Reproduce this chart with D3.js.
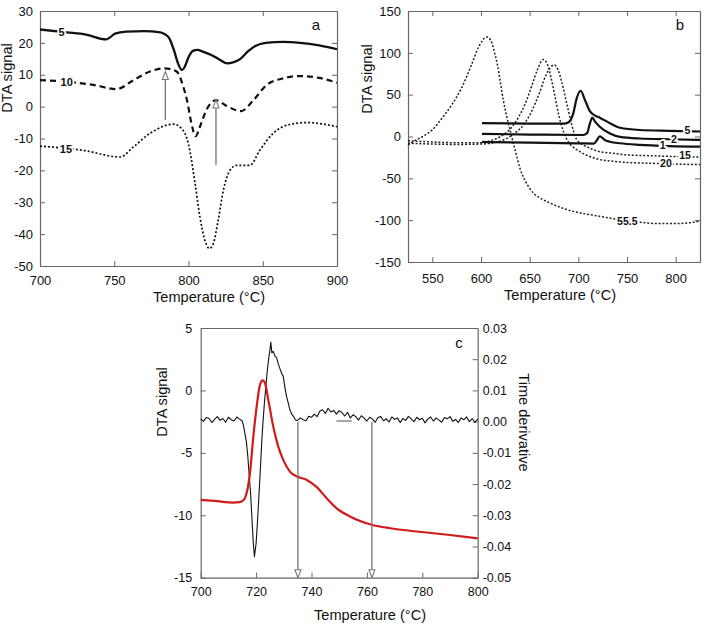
<!DOCTYPE html>
<html>
<head>
<meta charset="utf-8">
<script src="https://cdn.jsdelivr.net/npm/d3@7"></script>
<style>
body { margin: 0; background: #fff; }
svg text { font-family: "Liberation Sans", Arial, sans-serif; fill: #111; }
</style>
</head>
<body>
<div id="chart"></div>
<script>
// ---- panel a ----
var aTicksX = [700, 750, 800, 850, 900];
var aTicksY = [30, 20, 10, 0, -10, -20, -30, -40, -50];

var aT5 = [700,718,731,744.5,751,758,770,781,784,787,790,793,795.5,797.5,800,803,806,810,815,820,826,830,835,840,845,852,864,875,888,900];
var aV5 = [24.2,23.3,22.6,21.1,23,23.5,23.7,23.3,22.7,21.5,18,13.5,11.5,12.5,15.5,17.5,17.8,17.2,16.3,15,13.6,13.9,15,17.3,19,20,20.3,20,19.2,18];

var aT10 = [700,718,736,751.5,763,774,784,792,796.5,799,802,804.8,807.7,812,818.5,825.7,835.3,843.7,852.6,864,875,888,900];
var aV10 = [8.3,7.8,6.8,5.5,8.3,11,12,11,6.2,2,-5.3,-9.3,-6.3,-1.1,2,0.2,-1.4,2,6.8,8.9,9.6,9,7.5];

var aT15 = [700,729,754,763,774,790,795.4,799.9,804.4,807.7,811,814,816.7,820,823.5,828,832.4,841.4,848,857,868,879.6,900];
var aV15 = [-12.4,-13.7,-15.8,-12.6,-8.4,-5.5,-6.9,-11.6,-24,-34.6,-41.9,-44.5,-43,-35.6,-26.2,-19.9,-18.4,-18.4,-13.7,-8.4,-5.6,-5,-6.3];

var aLabels = ["5", "10", "15"];
var aLabelT = [714.5, 718, 717.5];
var aLabelV = [23.3, 7.8, -13.3];

var aArrowT = [784.4, 818.5];
var aArrowFrom = [-4.2, -18.3];
var aArrowTo = [11, 2.1];

// ---- panel b ----
var bTicksX = [550, 600, 650, 700, 750, 800];
var bTicksY = [150, 100, 50, 0, -50, -100, -150];

var bT55 = [525,532,540,550,560,570,580,590,598,606,610,614,617,620,623,626,630,635,640,645,650,655,660,670,680,690,705,720,740,760,780,800,815,825];
var bV55 = [-10,-5,0,8,22,38,58,85,108,119,115,100,85,64,43,26,7,-16,-38,-52,-62,-69,-73,-79,-84,-88,-92,-95,-99,-102,-104,-104,-103,-101];

var bT20 = [525,550,575,600,610,620,630,638,645,652,658,664,668,672,676,680,685,690,695,700,710,720,735,750,775,800,825];
var bV20 = [-5,-6.5,-7.5,-7.5,-5,0,9,22,38,60,80,92,87,70,48,25,5,-7,-13,-17,-23,-27,-29.5,-31,-32,-33,-33.5];

var bT15 = [525,550,575,600,615,625,635,645,652,660,667,675,679,683,688,693,698,705,712,720,735,750,775,800,825];
var bV15 = [-8,-9,-9.5,-9,-7,-3,4,16,30,52,74,85.5,80,65,40,15,-3,-10,-14,-17.5,-20,-22,-23,-24,-24.5];

var bT5 = [601,650,686,690,694.8,698.3,702.4,706.8,712,718,722,732.5,742.8,763,794,825];
var bV5 = [16,15.5,15.5,17,27.7,45.6,54.7,43.6,30,24.5,22.5,15.8,10.5,7.8,6.8,6];

var bT2 = [601,650,705,709,711.5,714.4,717,722,732.5,742.8,763,794,825];
var bV2 = [3.2,2.3,1.8,4,14,22.5,18,11.7,3.5,-0.5,-2.4,-3.3,-4];

var bT1 = [601,650,700,716,719,722,724.5,727,732.5,742.8,763,794,825];
var bV1 = [-6.5,-7.3,-8.2,-8.5,-4.5,0.3,-1.5,-4,-6.2,-8.1,-10,-11.5,-12.2];

var bLabels = ["5", "2", "1", "15", "20", "55.5"];
var bLabelT = [812, 798.3, 786.7, 809.6, 790, 750.3];
var bLabelV = [6.9, -3.4, -11, -23, -32, -101];

// ---- panel c ----
var cTicksX = [700, 720, 740, 760, 780, 800];
var cTicksY = [5, 0, -5, -10, -15];
var cTicksY2 = [0.03, 0.02, 0.01, 0.00, -0.01, -0.02, -0.03, -0.04, -0.05];

var cRedT = [700,705,711.8,714,715.4,716.6,717.8,719,720.2,721.4,722.4,723.2,724.4,726.2,728,729.8,732.2,734.8,738.3,741.9,745.5,749.1,753.9,762,768.4,778,790,800];
var cRedV = [-8.77,-8.85,-8.98,-8.95,-8.8,-8.2,-6.6,-3.7,-1.3,0.45,0.8,0.6,-0.75,-2.9,-4.5,-5.56,-6.5,-6.9,-7.17,-7.75,-8.64,-9.44,-10.1,-10.78,-11.04,-11.3,-11.58,-11.85];

var cDerivT = [700,701,702,703,704,705,706,707,708,709,710,711,712,713,714,715,715.5,716,716.5,717,717.5,718,718.5,719,719.4,720,720.5,721,721.5,722,722.5,723,723.5,724,724.5,725,725.3,725.7,726.2,726.8,727.4,728,728.6,729.2,729.8,730.4,731,731.6,732.2,732.8,733.5,734.2,735,736,737,738,739,740,741,742,743,744,745,746,747,748,749,750,751,752,753,754,755,756,757,758,759,760,761,762,763,764,765,766,767,768,769,770,771,772,773,774,775,776,777,778,779,780,781,782,783,784,785,786,787,788,789,790,791,792,793,794,795,796,797,798,799,800];
var cDerivV = [0.0009,0.0001,0.0013,0.0011,-0.0003,0.0007,0.0016,0.0004,0.0010,-0.0002,0.0014,0.0006,0.0002,0.0015,0.0008,0.0002,-0.0015,-0.004,-0.0065,-0.011,-0.017,-0.023,-0.031,-0.039,-0.0433,-0.039,-0.032,-0.024,-0.016,-0.007,0.000,0.006,0.011,0.016,0.020,0.023,0.0255,0.022,0.0225,0.021,0.0205,0.0185,0.017,0.0155,0.0145,0.011,0.008,0.006,0.0038,0.0025,0.0017,0.0005,0.0004,0.0012,0.0006,0.0003,0.0017,0.0014,0.0024,0.0016,0.0033,0.0038,0.0026,0.0043,0.0031,0.0036,0.0024,0.0035,0.0029,0.0018,0.0030,0.0012,0.0022,0.0016,0.0005,0.0019,0.0011,0.0002,0.0014,0.0008,-0.0002,0.0013,0.0016,0.0003,0.0009,-0.0001,0.0015,0.0007,0.0012,-0.0003,0.0010,0.0004,0.0017,0.0009,0.0000,0.0014,0.0006,0.0011,-0.0004,0.0008,0.0015,0.0002,0.0012,0.0005,-0.0002,0.0013,0.0009,0.0016,0.0001,0.0007,-0.0003,0.0012,0.0006,0.0015,0.0000,0.0010,-0.0002,0.0008];

var cSegT = [749, 754.5];
var cSegV = [0.0002, 0.0002];

var cArrowT = [735.1, 761.8];
var cArrowFrom = [0.0, 0.0];
var cArrowTo = [-0.05, -0.05];

var svg = d3.select("#chart").append("svg")
    .attr("width", 706)
    .attr("height", 626);

var axisColor = "#666";

function styleAxis(sel, fs) {
    sel.selectAll(".domain").attr("stroke", axisColor).attr("stroke-width", 1.2);
    sel.selectAll(".tick line").attr("stroke", axisColor).attr("stroke-width", 1);
    sel.selectAll("text").attr("font-size", fs).attr("font-family", null).attr("fill", "#111");
}

function makePanel(box, xDom, yDom, xTicks, yTicks, fs, padX, padY, topTicks) {
    var x = d3.scaleLinear().domain(xDom).range([box.left, box.right]);
    var y = d3.scaleLinear().domain(yDom).range([box.bottom, box.top]);
    var fmt = function(d) { return String(d); };

    var gb = svg.append("g").attr("transform", "translate(0," + box.bottom + ")")
        .call(d3.axisBottom(x).tickValues(xTicks).tickSizeInner(-5).tickSizeOuter(0).tickPadding(padX).tickFormat(fmt));
    styleAxis(gb, fs);
    var gl = svg.append("g").attr("transform", "translate(" + box.left + ",0)")
        .call(d3.axisLeft(y).tickValues(yTicks).tickSizeInner(-5).tickSizeOuter(0).tickPadding(padY).tickFormat(fmt));
    styleAxis(gl, fs);
    var gt = svg.append("g").attr("transform", "translate(0," + box.top + ")")
        .call(d3.axisTop(x).tickValues(topTicks ? xTicks : []).tickSizeInner(-5).tickSizeOuter(0).tickFormat(""));
    styleAxis(gt, fs);
    return { x: x, y: y };
}

function drawLine(xs, ys, sx, sy, stroke, width, dash, curve) {
    var pts = xs.map(function(t, i) { return [t, ys[i]]; });
    var line = d3.line()
        .x(function(d) { return sx(d[0]); })
        .y(function(d) { return sy(d[1]); })
        .curve(curve || d3.curveMonotoneX);
    svg.append("path")
        .datum(pts)
        .attr("d", line)
        .attr("fill", "none")
        .attr("stroke", stroke)
        .attr("stroke-width", width)
        .attr("stroke-dasharray", dash || null)
        .attr("stroke-linejoin", "round");
}

function lineLabels(labels, ts, vs, sx, sy, fs) {
    svg.selectAll(null)
        .data(labels)
        .enter()
        .append("text")
        .attr("x", function(d, i) { return sx(ts[i]); })
        .attr("y", function(d, i) { return sy(vs[i]); })
        .attr("dy", "0.35em")
        .attr("text-anchor", "middle")
        .attr("font-size", fs)
        .attr("font-weight", "bold")
        .attr("stroke", "#fff")
        .attr("stroke-width", 3.5)
        .attr("paint-order", "stroke")
        .text(function(d) { return d; });
}

function arrows(ts, from, to, sx, sy, up) {
    ts.forEach(function(t, i) {
        var x0 = sx(t);
        var tip = sy(to[i]);
        var base = up ? tip + 8 : tip - 8;
        svg.append("line")
            .attr("x1", x0).attr("x2", x0)
            .attr("y1", sy(from[i])).attr("y2", base)
            .attr("stroke", "#777").attr("stroke-width", 1.3);
        svg.append("path")
            .attr("d", "M" + x0 + "," + tip + "L" + (x0 - 3) + "," + base + "L" + (x0 + 3) + "," + base + "Z")
            .attr("fill", "#fff").attr("stroke", "#777").attr("stroke-width", 1.1);
    });
}

function addText(str, x, y, fs, rot, anchor) {
    svg.append("text")
        .attr("transform", "translate(" + x + "," + y + ")" + (rot ? " rotate(" + rot + ")" : ""))
        .attr("text-anchor", anchor || "middle")
        .attr("font-size", fs)
        .text(str);
}

// ---- draw panel a ----
var pa = makePanel({ left: 40, top: 11, right: 337, bottom: 266 }, [700, 900], [-50, 30], aTicksX, aTicksY, 13, 10, 7, true);
var aRight = svg.append("g").attr("transform", "translate(337,0)")
    .call(d3.axisRight(pa.y).tickValues(aTicksY).tickSizeInner(-5).tickSizeOuter(0).tickFormat(""));
styleAxis(aRight, 13);

drawLine(aT5, aV5, pa.x, pa.y, "#111", 2.3);
drawLine(aT10, aV10, pa.x, pa.y, "#111", 2.2, "6,4");
drawLine(aT15, aV15, pa.x, pa.y, "#111", 1.7, "2,2");
arrows(aArrowT, aArrowFrom, aArrowTo, pa.x, pa.y, true);
lineLabels(aLabels, aLabelT, aLabelV, pa.x, pa.y, 11);

addText("a", 316, 30, 15);
addText("Temperature (°C)", 209, 302, 14.6);
addText("DTA signal", 11.5, 78, 14.6, -90);

// ---- draw panel b ----
var pb = makePanel({ left: 408, top: 11, right: 700, bottom: 262 }, [525, 825], [-150, 150], bTicksX, bTicksY, 13, 12, 7, true);
var bRight = svg.append("g").attr("transform", "translate(700,0)")
    .call(d3.axisRight(pb.y).tickValues(bTicksY).tickSizeInner(-5).tickSizeOuter(0).tickFormat(""));
styleAxis(bRight, 13);

drawLine(bT55, bV55, pb.x, pb.y, "#222", 1.5, "2,1.8");
drawLine(bT20, bV20, pb.x, pb.y, "#222", 1.5, "2,1.8");
drawLine(bT15, bV15, pb.x, pb.y, "#222", 1.5, "2,1.8");
drawLine(bT5, bV5, pb.x, pb.y, "#111", 2.2);
drawLine(bT2, bV2, pb.x, pb.y, "#111", 2.2);
drawLine(bT1, bV1, pb.x, pb.y, "#111", 2.2);
lineLabels(bLabels, bLabelT, bLabelV, pb.x, pb.y, 10.5);

addText("b", 680, 30, 15);
addText("Temperature (°C)", 560, 300, 14.6);
addText("DTA signal", 372, 79, 14.6, -90);

// ---- draw panel c ----
var pc = makePanel({ left: 200.7, top: 328, right: 477.7, bottom: 577.7 }, [700, 800], [-15, 5], cTicksX, cTicksY, 12.5, 9, 8.5, false);
var y2 = d3.scaleLinear().domain([-0.05, 0.03]).range([577.7, 328]);
var cRight = svg.append("g").attr("transform", "translate(477.7,0)")
    .call(d3.axisRight(y2).tickValues(cTicksY2).tickSizeInner(-5).tickSizeOuter(0).tickPadding(5)
        .tickFormat(function(d) { return d.toFixed(2); }));
styleAxis(cRight, 12.5);

drawLine(cDerivT, cDerivV, pc.x, y2, "#111", 1.1, null, d3.curveLinear);
drawLine(cSegT, cSegV, pc.x, y2, "#888", 1.5, null, d3.curveLinear);
drawLine(cRedT, cRedV, pc.x, pc.y, "#d11a1a", 2.2);
arrows(cArrowT, cArrowFrom, cArrowTo, pc.x, y2, false);

addText("c", 459, 348, 15);
addText("Temperature (°C)", 370, 620, 14.6);
addText("DTA signal", 167, 402, 14.6, -90);
addText("Time derivative", 519, 422.5, 14.6, 90);
</script>
</body>
</html>
